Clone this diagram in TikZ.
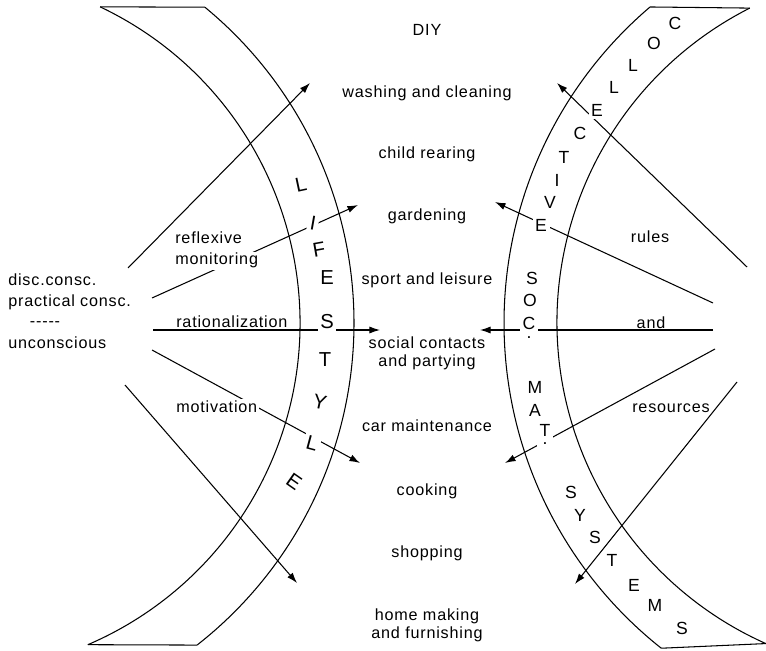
\documentclass[tikz,border=0pt]{standalone}
\usepackage{fontspec}
\setmainfont{Liberation Sans}
\newfontfamily\widefont{Liberation Sans}[LetterSpace=5]
\usetikzlibrary{arrows.meta}

\tikzset{
  arr/.style={-{Latex[length=6pt,width=4pt]}},
  lbl/.style={anchor=base,inner sep=1pt,font=\widefont\fontsize{9.2}{10.3}\selectfont},
  blk/.style={lbl,anchor=center,align=center},
  hide/.style={fill=white},
  letter/.style={inner sep=1.5pt,fill=white,font=\fontsize{11.5}{13}\selectfont},
  rletter/.style={letter,font=\fontsize{10}{12}\selectfont},
  dotted letter/.style={rletter,align=center}
}

\begin{document}
\begin{tikzpicture}[x=0.02cm,y=-0.02cm,line width=0.6pt]
  \useasboundingbox (0,0) rectangle (766,651);

  \coordinate (l1) at (128,268); \coordinate (l1tip) at (310,83);
  \coordinate (l2) at (152,298); \coordinate (l2tip) at (358,205);
  \coordinate (l3) at (153,330); \coordinate (l3tip) at (380,330);
  \coordinate (l4) at (152,350); \coordinate (l4tip) at (360,463);
  \coordinate (l5) at (125,385); \coordinate (l5tip) at (297,583);
  \coordinate (r1) at (747,267); \coordinate (r1tip) at (557,83);
  \coordinate (r2) at (713,303); \coordinate (r2tip) at (495,202);
  \coordinate (r3) at (713,330); \coordinate (r3tip) at (480,330);
  \coordinate (r4) at (715,349); \coordinate (r4tip) at (505,463);
  \coordinate (r5) at (737,382); \coordinate (r5tip) at (575,584);

  \foreach \s in {l,r}
    \foreach \i in {1,...,5}
      \draw[arr] (\s\i) -- (\s\i tip);

  % activities
  \node[lbl] (diy) at (427,36) {DIY};
  \node[lbl] (wash) at (427,98) {washing and cleaning};
  \node[lbl] (child) at (427,159) {child rearing};
  \node[lbl] (garden) at (427,221) {gardening};
  \node[lbl] (sport) at (427,285) {sport and leisure};
  \node[blk] (social) at (427,353) {social contacts\\and partying};
  \node[lbl] (car) at (427,431) {car maintenance};
  \node[lbl] (cook) at (427,495) {cooking};
  \node[lbl] (shop) at (427,557) {shopping};
  \node[blk] (home) at (427,625) {home making\\and furnishing};

  % agent side
  \node[lbl,anchor=base west] (disc) at (6,286) {disc.consc.};
  \node[lbl,anchor=base west] (pract) at (6,307) {practical consc.};
  \node[lbl] (dashes) at (45,326) {-{}-{}-{}-{}-};
  \node[lbl,anchor=base west] (uncon) at (6,348) {unconscious};
  \node[lbl,anchor=base west] (refl) at (173,244) {reflexive};
  \node[lbl,hide,anchor=base west] (monit) at (173,265) {monitoring};
  \node[lbl,anchor=base west] (ratio) at (174,327) {rationalization};
  \node[lbl,hide,anchor=base west] (motiv) at (174,412) {motivation};

  % structure side
  \node[lbl] (rules) at (650,243) {rules};
  \node[lbl] (andlbl) at (651,328) {and};
  \node[lbl] (res) at (671,412) {resources};

  \foreach \c/\x/\y/\r [count=\i] in {L/301/185/12, I/313/223/-10, F/319/250/10,
      E/327/278/0, S/327/322/0, T/325/360/0, Y/320/402/-12, L/312/443/-15, E/294/482/-35}
    \node[letter,rotate=\r] (life\i) at (\x,\y) {\c};

  \foreach \c/\x/\y [count=\i] in {C/675/23, O/654/43, L/633/65, L/614/87, E/597/110,
      C/580/133, T/564/157, I/557/180, V/550/202, E/541/225,
      S/532/278, O/530/300, M/535/387, A/535/410,
      S/571/492, Y/580/515, S/595/537, T/612/560, E/634/585, M/655/605, S/682/628}
    \node[rletter] (soc\i) at (\x,\y) {\c};
  \node[dotted letter] (socC) at (529,327.5) {C\\[-7pt].};
  \node[dotted letter] (matT) at (545,434.5) {T\\[-7pt].};

  % the two bands
  \draw (-50,323) ++(-64.6:350) coordinate (lb1)
    arc[start angle=-64.6,end angle=66.8,radius=350] coordinate (lb2);
  \draw (-55,323) ++(-50.55:409) coordinate (lb3)
    arc[start angle=-50.55,end angle=51.95,radius=409] coordinate (lb4);
  \draw (lb1) -- (lb3) (lb2) -- (lb4);

  \draw (919,323) ++(229.6:415) coordinate (rb1)
    arc[start angle=229.6,end angle=128.4,radius=415] coordinate (rb2);
  \draw (909,322) ++(243.1:352) coordinate (rb3)
    arc[start angle=243.1,end angle=114,radius=352] coordinate (rb4);
  \draw (rb1) -- (rb3) (rb2) -- (rb4);
\end{tikzpicture}
\end{document}
